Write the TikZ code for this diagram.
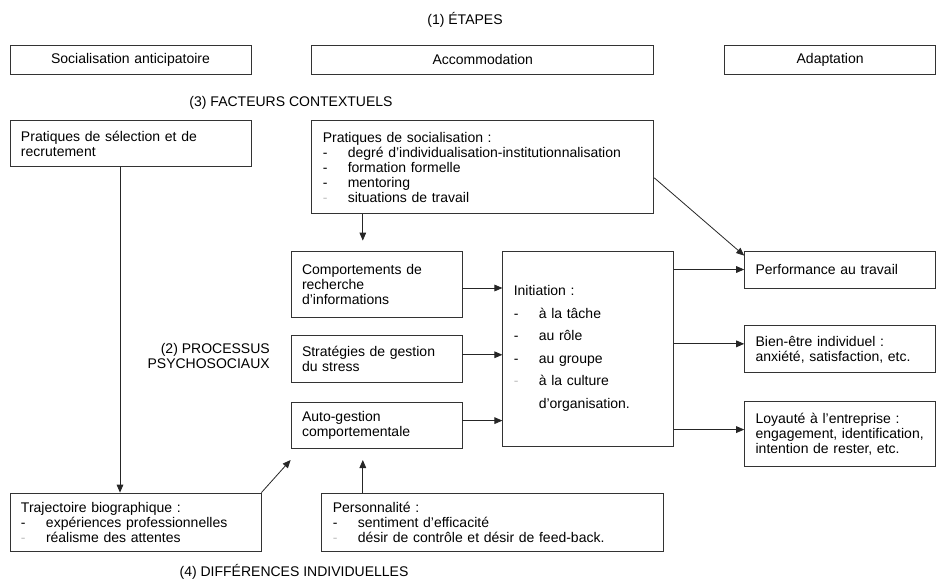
\documentclass[tikz,border=0pt]{standalone}
\usepackage{fontspec}
\setmainfont{Liberation Sans}
\usepackage{tikz}
\usetikzlibrary{arrows.meta, positioning, calc}
\newcommand{\dashitem}[1]{\makebox[18.75pt][l]{-}#1}
\newcommand{\greyitem}[1]{\makebox[18.75pt][l]{\textcolor{black!25}{-}}#1}

\begin{document}
\begin{tikzpicture}[
  x=0.75pt, y=-0.75pt,
  every node/.style={font=\fontsize{10.5}{11.25}\selectfont},
  stagebox/.style={rectangle, draw=black!80, line width=0.6pt,
    inner xsep=8.25pt, inner ysep=0pt, minimum height=21.75pt,
    align=center},
  box/.style={rectangle, draw=black!80, line width=0.6pt,
    inner xsep=8.25pt, inner ysep=0pt, align=left},
  lbl/.style={inner sep=0pt},
  arr/.style={-{Triangle[length=6pt,width=5pt]}, line width=0.6pt, draw=black!85}
]
  \useasboundingbox (0,0) rectangle (937,578);

  % (1) etapes
  \node[lbl] (etapes) at (465,20) {(1) ÉTAPES};
  \node[stagebox, text width=164.25pt] (anticip) at (130.5,59.5)
    {Socialisation anticipatoire};
  \node[stagebox, text width=240pt, right=45pt of anticip] (accom)
    {Accommodation};
  \node[stagebox, text width=141.75pt, right=52.5pt of accom] (adapt)
    {Adaptation};

  % (3) facteurs contextuels
  \node[lbl] (facteurs) at (291,103) {(3) FACTEURS CONTEXTUELS};
  \node[box, text width=164.25pt, minimum height=34.5pt,
    below=34.5pt of anticip] (selection)
    {Pratiques de sélection et de\\recrutement};
  \node[box, text width=240pt, minimum height=69.75pt,
    below=34.5pt of accom] (socpract)
    {Pratiques de socialisation :\\
     \dashitem{degré d'individualisation-institutionnalisation}\\
     \dashitem{formation formelle}\\
     \dashitem{mentoring}\\
     \greyitem{situations de travail}};

  % (2) processus psychosociaux
  \node[lbl, anchor=east, align=right] (processus) at (270,355.5)
    {(2) PROCESSUS\\PSYCHOSOCIAUX};
  \node[box, text width=111.75pt, minimum height=49.5pt] (recherche)
    at (376.5,284) {Comportements de\\recherche\\d'informations};
  \node[box, text width=111.75pt, minimum height=35.25pt,
    below=13.5pt of recherche] (stress)
    {Stratégies de gestion\\du stress};
  \node[box, text width=111.75pt, minimum height=34.5pt,
    below=14.25pt of stress] (autogestion)
    {Auto-gestion\\comportementale};
  \node[box, text width=111.75pt, minimum height=146.25pt,
    font=\fontsize{10.5}{16.9}\selectfont,
    right=30pt of recherche.north east, anchor=north west] (initiation)
    {Initiation :\\
     \dashitem{à la tâche}\\
     \dashitem{au rôle}\\
     \dashitem{au groupe}\\
     \greyitem{à la culture}\\
     \hspace*{18.75pt}d'organisation.};

  % resultats
  \node[box, text width=126.75pt, minimum height=27.75pt,
    right=52.5pt of initiation.north east, anchor=north west] (perf)
    {Performance au travail};
  \node[box, text width=126.75pt, minimum height=35.25pt,
    below=27.75pt of perf] (bienetre)
    {Bien-être individuel :\\anxiété, satisfaction, etc.};
  \node[box, text width=126.75pt, minimum height=48.75pt,
    below=21pt of bienetre] (loyaute)
    {Loyauté à l'entreprise :\\engagement, identification,\\intention de rester, etc.};

  % (4) differences individuelles
  \node[box, text width=171.75pt, minimum height=43.5pt] (traject)
    at (135.5,522)
    {Trajectoire biographique :\\
     \dashitem{expériences professionnelles}\\
     \greyitem{réalisme des attentes}};
  \node[box, text width=240pt, minimum height=43.5pt,
    right=45pt of traject] (personnalite)
    {Personnalité :\\
     \dashitem{sentiment d'efficacité}\\
     \greyitem{désir de contrôle et désir de feed-back.}};
  \node[lbl] (differences) at (294,572) {(4) DIFFÉRENCES INDIVIDUELLES};

  % connecteurs
  \draw[arr] ([xshift=-7.875pt]selection.south)
    -- ([xshift=-7.875pt]selection.south |- traject.north);
  \draw[arr] ([xshift=-90pt]socpract.south)
    -- ([xshift=-90pt,yshift=7.5pt]socpract.south |- recherche.north);
  \draw[arr] ([yshift=-7.875pt]socpract.east) -- ([yshift=-3.75pt]perf.north west);
  \draw[arr] ([yshift=-3pt]recherche.east) -- ([yshift=-3pt]recherche.east -| initiation.west);
  \draw[arr] ([yshift=3.4pt]stress.east) -- ([yshift=3.4pt]stress.east -| initiation.west);
  \draw[arr] ([yshift=3.75pt]autogestion.east) -- ([yshift=3.75pt]autogestion.east -| initiation.west);
  \draw[arr] (initiation.east |- perf.west) -- (perf.west);
  \draw[arr] ([yshift=4.1pt]initiation.east |- bienetre.west) -- ([yshift=4.1pt]bienetre.west);
  \draw[arr] ([yshift=3.4pt]initiation.east |- loyaute.west) -- ([yshift=3.4pt]loyaute.west);
  \draw[arr] (traject.north east) -- ([yshift=-8.25pt]autogestion.south west);
  \draw[arr] ([xshift=-97.5pt]personnalite.north)
    -- ([xshift=-97.5pt,yshift=-8.25pt]personnalite.north |- autogestion.south);
\end{tikzpicture}
\end{document}
